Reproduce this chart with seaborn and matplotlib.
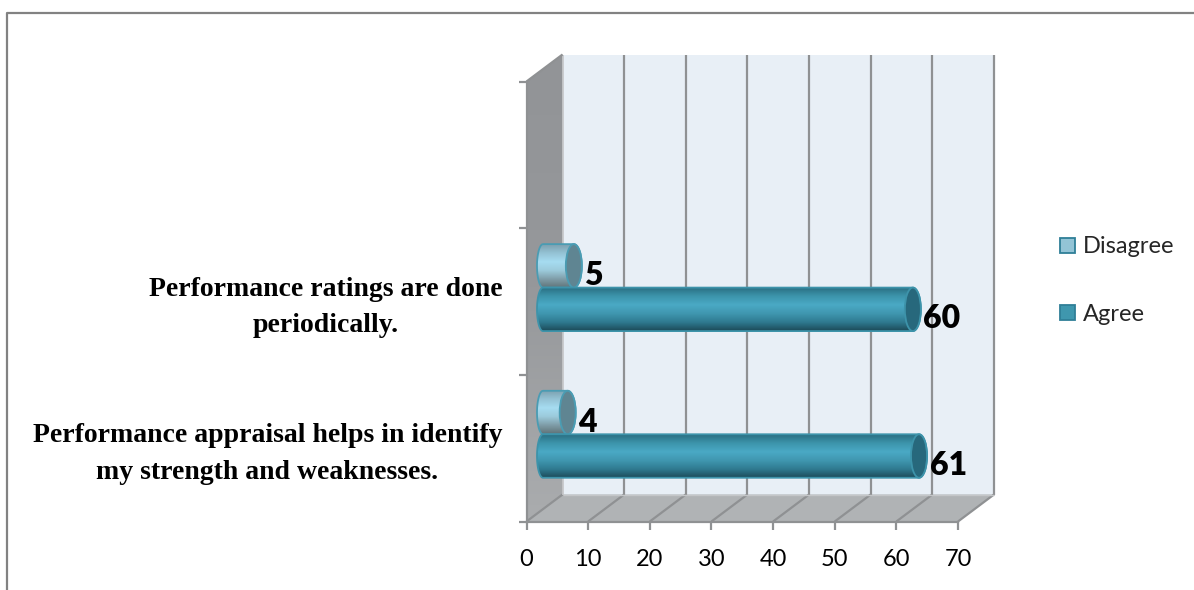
import numpy as np
import pandas as pd
import matplotlib
matplotlib.use("Agg")
import matplotlib.pyplot as plt
from matplotlib.colors import LinearSegmentedColormap
from matplotlib.lines import Line2D
from matplotlib.patches import Ellipse, PathPatch, Polygon
from matplotlib.path import Path
from matplotlib.transforms import IdentityTransform
import seaborn as sns

categories = ["",
              "Performance ratings are done\nperiodically.",
              "Performance appraisal helps in identify\nmy strength and weaknesses."]
series_names = ["Disagree", "Agree"]
disagree = [np.nan, 5, 4]
agree = [np.nan, 60, 61]
x_ticks = [0, 10, 20, 30, 40, 50, 60, 70]

sns.set_theme(style="white")
plt.rcParams["font.family"] = ["Lato", "DejaVu Sans"]

W, H = 1194, 590
GRAY = "#8f9193"
fig = plt.figure(figsize=(W / 100, H / 100), dpi=100, facecolor="white")

# outer frame of the picture
fig.add_artist(Line2D([7 / W, 7 / W, 1], [0, 1 - 13 / H, 1 - 13 / H], color="#828282", lw=1.6))

rect = [526.5 / W, (H - 521.5) / H, 431.5 / W, 440 / H]
ax = fig.add_axes(rect, facecolor="none", zorder=1)
bx = fig.add_axes([rect[0] + 16.5 / W, rect[1] + 13.9 / H, rect[2], rect[3]], facecolor="none", zorder=2)

df = pd.DataFrame({
    "category": categories * 2,
    "series": np.repeat(series_names, len(categories)),
    "value": disagree + agree,
})
palette = {"Disagree": "#93C4D6", "Agree": "#3F97AE"}
sns.barplot(data=df, y="category", x="value", hue="series", order=categories,
            hue_order=series_names, palette=palette, width=0.593, gap=0,
            errorbar=None, linewidth=0, saturation=1, ax=bx)
bx.set_xlim(0, x_ticks[-1])
ylim = bx.get_ylim()
bx.axis("off")

ax.set_xlim(0, x_ticks[-1])
ax.set_ylim(ylim)

# 3D box
DX, DY = 36, 27
def P(v, c, d=0):
    p = ax.transData.transform((v, c))
    return (p[0] + d * DX, p[1] + d * DY)

y0, y1 = ylim  # bottom, top
xm = x_ticks[-1]
ident = IdentityTransform()
def poly(pts, fc, z):
    patch = Polygon(pts, closed=True, fc=fc, ec="none", transform=ident, clip_on=False, zorder=z)
    ax.add_patch(patch)
    return patch
def seg(a, b, z=3, lw=1.6, c=GRAY):
    ax.add_line(Line2D([a[0], b[0]], [a[1], b[1]], color=c, lw=lw, transform=ident, clip_on=False, zorder=z,
                       solid_capstyle="butt"))

poly([P(0, y0, 1), P(xm, y0, 1), P(xm, y1, 1), P(0, y1, 1)], "#E8EFF6", 1)
wall = poly([P(0, y0, 0), P(0, y0, 1), P(0, y1, 1), P(0, y1, 0)], "#9B9DA0", 1)
poly([P(0, y0, 0), P(xm, y0, 0), P(xm, y0, 1), P(0, y0, 1)], "#B0B3B5", 1)

# left wall shading
wall_cm = LinearSegmentedColormap.from_list("wall", ["#929497", "#96989b", "#aaacae"])
wall_w = DX / (431.5 / xm)
wall_top = y1 - DY / (440 / (y0 - y1))
wim = ax.imshow(np.linspace(0, 1, 64)[:, None], cmap=wall_cm, aspect="auto", origin="upper",
                extent=(0, wall_w, y0, wall_top), zorder=1.5, interpolation="bilinear")
wim.set_clip_path(wall)
wim.set_clip_box(fig.bbox)
ax.set_xlim(0, xm)
ax.set_ylim(ylim)

for t in x_ticks:
    seg(P(t, y0, 0), P(t, y0, 1))
    if t > 0:
        seg(P(t, y0, 1), P(t, y1, 1))
seg(P(0, y0, 1), P(0, y1, 1), lw=1.2, c="#c4c6c8")
seg(P(0, y1, 0), P(0, y1, 1))
seg(P(0, y0, 1), P(xm, y0, 1), lw=1.0, c="#c4c6c8")

# axis ticks and labels
for s in ["top", "right"]:
    ax.spines[s].set_visible(False)
for s in ["left", "bottom"]:
    ax.spines[s].set_color(GRAY)
    ax.spines[s].set_linewidth(1.6)
ax.set_xticks(x_ticks)
ax.tick_params(axis="x", length=6, width=1.6, color=GRAY, labelsize=17, labelcolor="black", pad=13.5, bottom=True)
ax.set_yticks(np.arange(len(categories) + 1) - 0.5)
ax.set_yticklabels([])
ax.tick_params(axis="y", which="major", length=6, width=1.6, color=GRAY, left=True)
ax.set_yticks(np.arange(len(categories)) - 0.02, labels=categories, minor=True)
ax.tick_params(axis="y", which="minor", length=0, pad=17.5)
for lab in ax.get_yticklabels(minor=True):
    lab.set(family="Liberation Serif", fontweight="bold", fontsize=20, color="black",
            ha="right", multialignment="center", linespacing=1.62)

# cylinders: gradient, outline, end cap, value label
styles = {
    "Disagree": dict(cmap=["#7b9fae", "#94c2d4", "#a6dcf1", "#9ccbdc", "#7f9da8", "#5f7277"], cap="#5f8592", edge="#4a9cb3"),
    "Agree": dict(cmap=["#2a6d80", "#3c94ab", "#4aa9c5", "#4097b0", "#2f7a90", "#1c4a58"], cap="#27687c", edge="#3d93aa"),
}
HW = 8 / (431.5 / xm)  # half width of the end ellipses, in x units
theta = np.linspace(np.pi / 2, 3 * np.pi / 2, 40)
for z, (name, cont) in enumerate(zip(series_names, bx.containers)):
    st = styles[name]
    cm = LinearSegmentedColormap.from_list(name, st["cmap"])
    for b in cont.patches:
        v, yb, h = b.get_width(), b.get_y(), b.get_height()
        if not np.isfinite(v):
            continue
        b.set_zorder(5 + 3 * z)
        yc = yb + h / 2
        left = np.c_[0.75 * HW * np.cos(theta), yc - h / 2 * np.sin(theta)]
        right = np.c_[v - HW * np.cos(theta), yc + h / 2 * np.sin(theta)]
        pts = np.r_[left, right, left[:1]]
        outline = PathPatch(Path(pts), fc="none", ec=st["edge"], lw=1.3, zorder=7 + 3 * z, clip_on=False)
        bx.add_patch(outline)
        im = bx.imshow(np.linspace(0, 1, 128)[:, None], cmap=cm, aspect="auto", origin="upper",
                       extent=(-HW, v + HW, yb + h, yb), zorder=6 + 3 * z, interpolation="bilinear")
        im.set_clip_path(outline)
        im.set_clip_box(fig.bbox)
        bx.add_patch(Ellipse((v, yc), 2 * HW, h, fc=st["cap"], ec=st["edge"], lw=1.3, zorder=7.5 + 3 * z, clip_on=False))
        bx.annotate(f"{v:.0f}", (v, yc), xytext=(10.5 * 0.72, -9.5 * 0.72), textcoords="offset points",
                    ha="left", va="center", fontsize=23, fontweight="heavy", color="black", zorder=20,
                    annotation_clip=False)
bx.set_xlim(0, xm)
bx.set_ylim(ylim)

# legend
sns.move_legend(bx, loc="center left", bbox_to_anchor=(1060 / W, (H - 280.5) / H), bbox_transform=fig.transFigure,
                title=None, frameon=False, fontsize=17, handlelength=0.62, handleheight=0.62,
                handletextpad=0.33, labelspacing=1.95, borderpad=0, borderaxespad=0)
for h in bx.get_legend().get_patches():
    h.set_edgecolor("#2f7f97")
    h.set_linewidth(1.3)

fig.savefig("out.png", dpi=100)
